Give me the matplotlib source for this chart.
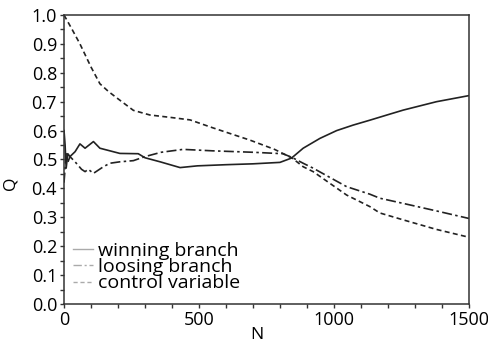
import numpy as np
import matplotlib.pyplot as plt
from matplotlib.ticker import MultipleLocator

# values
n_win = [0, 4, 8, 14, 22, 41, 59, 78, 109, 133, 170, 207, 275, 300, 356, 430, 494, 600, 700,
         800, 843, 886, 948, 1010, 1071, 1133, 1200, 1257, 1380, 1500]
q_win = [0.60, 0.55, 0.47, 0.52, 0.51, 0.527, 0.554, 0.539, 0.562, 0.539, 0.53, 0.521, 0.52,
         0.506, 0.492, 0.472, 0.478, 0.482, 0.485, 0.49, 0.505, 0.539, 0.573, 0.60, 0.619, 0.636,
         0.655, 0.671, 0.70, 0.721]

n_lose = [0, 4, 8, 14, 22, 41, 65, 78, 90, 109, 146, 170, 207, 257, 300, 360, 441, 550, 700,
          811, 845, 886, 923, 1010, 1047, 1133, 1170, 1257, 1380, 1500]
q_lose = [0.42, 0.47, 0.52, 0.49, 0.51, 0.492, 0.466, 0.458, 0.466, 0.452, 0.475, 0.487, 0.492,
          0.496, 0.51, 0.525, 0.535, 0.53, 0.525, 0.52, 0.507, 0.487, 0.47, 0.425, 0.406, 0.38,
          0.366, 0.348, 0.322, 0.296]

n_ctrl = [0, 30, 59, 100, 133, 165, 200, 257, 318, 400, 467, 550, 689, 780, 845, 886, 923, 1047,
          1133, 1170, 1257, 1380, 1500]
q_ctrl = [1.0, 0.95, 0.90, 0.82, 0.762, 0.735, 0.71, 0.67, 0.654, 0.645, 0.637, 0.61, 0.567,
          0.535, 0.505, 0.475, 0.458, 0.377, 0.337, 0.315, 0.291, 0.258, 0.231]

plt.rcParams['font.family'] = ['Open Sans', 'DejaVu Sans']

fig = plt.figure(figsize=(4.89, 3.43), dpi=100)
ax = fig.add_axes([0.1309, 0.1137, 0.828, 0.8426])

col = '#222222'
dashdot = (0, (6, 2, 1.5, 2))
dashed = (0, (3, 2))
ax.plot(n_win, q_win, color=col, lw=1.2, ls='-')
ax.plot(n_lose, q_lose, color=col, lw=1.2, ls=dashdot)
ax.plot(n_ctrl, q_ctrl, color=col, lw=1.2, ls=dashed)

# legend uses light grey handles
hw, = ax.plot([], [], color='#aaaaaa', lw=1.0, ls='-', label='winning branch')
hl, = ax.plot([], [], color='#aaaaaa', lw=1.0, ls=dashdot, label='loosing branch')
hc, = ax.plot([], [], color='#aaaaaa', lw=1.0, ls=dashed, label='control variable')
ax.legend(handles=[hw, hl, hc], loc='lower left', frameon=False, fontsize=14,
          handlelength=1.05, handletextpad=0.25, labelspacing=-0.08,
          borderaxespad=0.0, borderpad=0.0, bbox_to_anchor=(0.022, 0.04))

ax.set_xlim(0, 1500)
ax.set_ylim(0, 1.0)
ax.xaxis.set_major_locator(MultipleLocator(500))
ax.xaxis.set_minor_locator(MultipleLocator(100))
ax.yaxis.set_major_locator(MultipleLocator(0.1))
ax.yaxis.set_minor_locator(MultipleLocator(0.05))
ax.yaxis.set_major_formatter(plt.FormatStrFormatter('%.1f'))
ax.tick_params(which='both', direction='out', length=3, width=1, color='#333333',
               labelsize=13, pad=2)
for s in ax.spines.values():
    s.set_linewidth(1.1)
    s.set_color('#333333')

ax.set_xlabel('N', fontsize=12.5)
ax.set_ylabel('Q', fontsize=12.5)
ax.xaxis.set_label_coords(0.477, -0.078)
ax.yaxis.set_label_coords(-0.112, 0.419)

fig.savefig('out.png', dpi=100)
